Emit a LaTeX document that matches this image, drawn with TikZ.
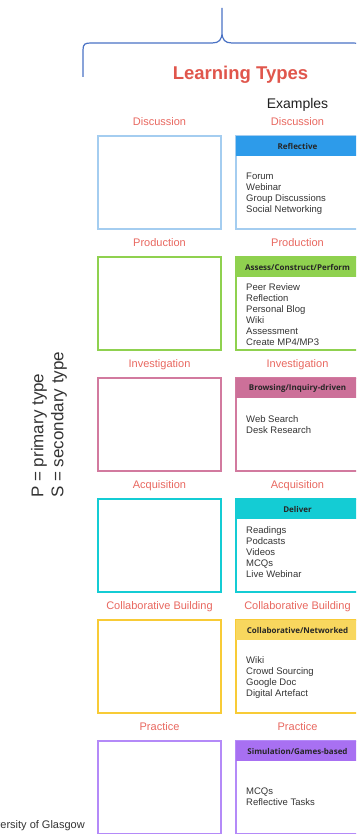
\documentclass[tikz,border=0pt]{standalone}
\usepackage{fontspec}
\setmainfont{Liberation Sans}
\newfontfamily\headfont{Open Sans}
\usetikzlibrary{positioning}

\definecolor{typered}{HTML}{E8675F}
\definecolor{titlered}{HTML}{E0564C}
\definecolor{bracecol}{HTML}{4A72C4}
\definecolor{inktext}{HTML}{333333}
\definecolor{discline}{HTML}{A4CDF0}
\definecolor{dischead}{HTML}{2D9BEA}
\definecolor{prodcol}{HTML}{8FD14F}
\definecolor{invline}{HTML}{D27A9F}
\definecolor{invhead}{HTML}{CC7099}
\definecolor{acqcol}{HTML}{14CCD4}
\definecolor{colline}{HTML}{F8CB36}
\definecolor{colhead}{HTML}{F8D75E}
\definecolor{pracline}{HTML}{B48AF8}
\definecolor{prachead}{HTML}{A870F2}

\begin{document}
\begin{tikzpicture}[x=1pt,y=-1pt,node distance=28pt and 15pt,
  type box/.style={rectangle,draw=#1,line width=1.3pt,outer sep=0pt,
    inner sep=0pt,minimum width=123pt,minimum height=93pt},
  head bar/.style={rectangle,fill=#1,outer sep=0pt,inner sep=0pt,
    minimum width=123pt,minimum height=20pt,text=black!85,
    font=\headfont\bfseries\fontsize{8}{9.6}\selectfont},
  type label/.style={text=typered,inner sep=0pt,text height=8pt,
    text depth=2pt,font=\fontsize{11}{13}\selectfont},
  item list/.style={align=left,inner sep=0pt,text=inktext,
    font=\fontsize{9.5}{11}\selectfont}]

  \useasboundingbox (0,0) rectangle (356,834);
  \clip (0,0) rectangle (356,834);

  % brace over the two columns
  \draw[bracecol,line width=1.2pt]
    (83,77) -- (83,50) .. controls (83,44) and (85,43) .. (91,43)
    -- (212,43) .. controls (219,43) and (222,40) .. (222,32) -- (222,8)
    -- (222,32) .. controls (222,40) and (225,43) .. (232,43)
    -- (353,43) .. controls (359,43) and (361,44) .. (361,50) -- (361,77);

  \node[anchor=base,text=titlered,font=\bfseries\fontsize{18.5}{22}\selectfont]
    (Title) at (240.5,80) {Learning Types};
  \node[anchor=base,text=black!87,font=\fontsize{14}{17}\selectfont]
    (ExHead) at (297.5,108.3) {Examples};

  % key, read bottom to top (base = last line)
  \node[anchor=base west,rotate=90,align=left,inner sep=0pt,text=inktext,
    font=\fontsize{17}{20}\selectfont] (Key) at (63.3,498)
    {P = primary type\\S = secondary type};
  \node[anchor=base east,inner sep=0pt,text=inktext,
    font=\fontsize{11}{13}\selectfont] (Uni) at (85,828) {University of Glasgow};

  % left column: the learning types
  \node[type box=discline] (DiscType) at (159.5,182.5) {};
  \node[type box=prodcol] (ProdType) [below=of DiscType] {};
  \node[type box=invline] (InvType) [below=of ProdType] {};
  \node[type box=acqcol] (AcqType) [below=of InvType] {};
  \node[type box=colline] (CollType) [below=of AcqType] {};
  \node[type box=pracline] (PracType) [below=of CollType] {};

  % right column: examples
  \node[type box=discline] (DiscEx) [right=of DiscType] {};
  \node[type box=prodcol] (ProdEx) [right=of ProdType] {};
  \node[type box=invline] (InvEx) [right=of InvType] {};
  \node[type box=acqcol] (AcqEx) [right=of AcqType] {};
  \node[type box=colline] (CollEx) [right=of CollType] {};
  \node[type box=pracline] (PracEx) [right=of PracType] {};

  \node[head bar=dischead] (DiscHead) [below=0pt of DiscEx.north] {Reflective};
  \node[head bar=prodcol] (ProdHead) [below=0pt of ProdEx.north] {Assess/Construct/Perform};
  \node[head bar=invhead] (InvHead) [below=0pt of InvEx.north] {Browsing/Inquiry-driven};
  \node[head bar=acqcol] (AcqHead) [below=0pt of AcqEx.north] {Deliver};
  \node[head bar=colhead] (CollHead) [below=0pt of CollEx.north] {Collaborative/Networked};
  \node[head bar=prachead] (PracHead) [below=0pt of PracEx.north] {Simulation/Games-based};

  % labels over every box
  \node[type label] (DiscTypeLbl) [above=8pt of DiscType] {Discussion};
  \node[type label] (ProdTypeLbl) [above=8pt of ProdType] {Production};
  \node[type label] (InvTypeLbl) [above=8pt of InvType] {Investigation};
  \node[type label] (AcqTypeLbl) [above=8pt of AcqType] {Acquisition};
  \node[type label] (CollTypeLbl) [above=8pt of CollType] {Collaborative Building};
  \node[type label] (PracTypeLbl) [above=8pt of PracType] {Practice};
  \node[type label] (DiscExLbl) [above=8pt of DiscEx] {Discussion};
  \node[type label] (ProdExLbl) [above=8pt of ProdEx] {Production};
  \node[type label] (InvExLbl) [above=8pt of InvEx] {Investigation};
  \node[type label] (AcqExLbl) [above=8pt of AcqEx] {Acquisition};
  \node[type label] (CollExLbl) [above=8pt of CollEx] {Collaborative Building};
  \node[type label] (PracExLbl) [above=8pt of PracEx] {Practice};

  \node[item list] (DiscItems) [below right=17pt and 10pt of DiscHead.south west]
    {Forum\\Webinar\\Group Discussions\\Social Networking};
  \node[item list] (ProdItems) [below right=6pt and 10pt of ProdHead.south west]
    {Peer Review\\Reflection\\Personal Blog\\Wiki\\Assessment\\Create MP4/MP3};
  \node[item list] (InvItems) [below right=17pt and 10pt of InvHead.south west]
    {Web Search\\Desk Research};
  \node[item list] (AcqItems) [below right=7.5pt and 10pt of AcqHead.south west]
    {Readings\\Podcasts\\Videos\\MCQs\\Live Webinar};
  \node[item list] (CollItems) [below right=16.5pt and 10pt of CollHead.south west]
    {Wiki\\Crowd Sourcing\\Google Doc\\Digital Artefact};
  \node[item list] (PracItems) [below right=27pt and 10pt of PracHead.south west]
    {MCQs\\Reflective Tasks};
\end{tikzpicture}
\end{document}
